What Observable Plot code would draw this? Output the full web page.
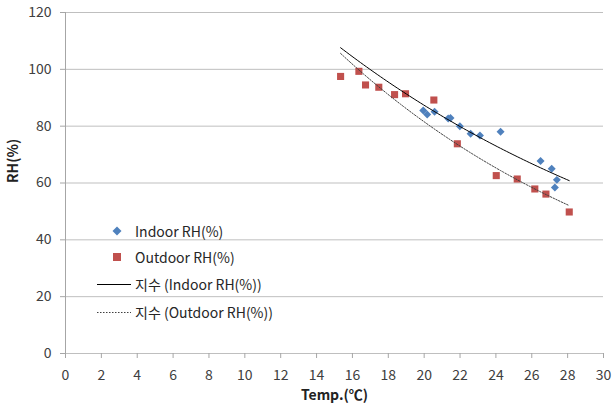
<!DOCTYPE html>
<html><head><meta charset="utf-8">
<script src="https://cdn.jsdelivr.net/npm/d3@7"></script>
<script src="https://cdn.jsdelivr.net/npm/@observablehq/plot@0.6"></script>
<style>
body{margin:0;background:#fff;font-family:"Noto Sans CJK KR","Noto Sans",sans-serif;}
#wrap{position:relative;width:613px;height:409px;}
#legend{position:absolute;left:95px;top:0;font-size:14px;color:#262626;}
.row{position:absolute;left:0;height:20px;display:flex;align-items:center;white-space:nowrap;}
.row svg{flex:none;}
</style></head><body><div id="wrap"></div>
<script>
const indoorTemp = [19.95, 20.17, 20.58, 21.34, 21.47, 21.99, 22.59, 23.11, 24.26, 26.49, 27.11, 27.40, 27.29];
const indoorRH   = [85.5, 84.1, 85.1, 82.7, 82.9, 80.0, 77.3, 76.7, 78.0, 67.7, 65.0, 61.1, 58.4];
const outdoorTemp = [15.34, 16.36, 16.73, 17.47, 18.35, 18.96, 20.54, 21.85, 24.02, 25.19, 26.17, 26.79, 28.09];
const outdoorRH   = [97.5, 99.3, 94.5, 93.7, 91.1, 91.4, 89.2, 73.8, 62.6, 61.4, 57.9, 56.1, 49.8];
const xTicks = [0, 2, 4, 6, 8, 10, 12, 14, 16, 18, 20, 22, 24, 26, 28, 30];
const yTicks = [0, 20, 40, 60, 80, 100, 120];
const seriesNames = ["Indoor RH(%)", "Outdoor RH(%)", "지수 (Indoor RH(%))", "지수 (Outdoor RH(%))"];
const colors = ["#4F81BD", "#C0504D", "#000000", "#404040"];

const indoor = indoorTemp.map((t, i) => ({t, rh: indoorRH[i]}));
const outdoor = outdoorTemp.map((t, i) => ({t, rh: outdoorRH[i]}));

// Excel-style exponential trendline: least squares on ln(y)
function expFit(xs, ys) {
  const ly = ys.map(Math.log);
  const mx = d3.mean(xs), my = d3.mean(ly);
  const b = d3.sum(xs, (x, i) => (x - mx) * (ly[i] - my)) / d3.sum(xs, x => (x - mx) ** 2);
  const a = Math.exp(my - b * mx);
  return x => a * Math.exp(b * x);
}
const allT = indoorTemp.concat(outdoorTemp);
const lo = d3.min(allT), hi = d3.max(allT);
const samples = d3.range(81).map(i => lo + (hi - lo) * i / 80);
const fIn = expFit(indoorTemp, indoorRH), fOut = expFit(outdoorTemp, outdoorRH);
const inCurve = samples.map(t => ({t, rh: fIn(t)}));
const outCurve = samples.map(t => ({t, rh: fOut(t)}));

const chart = Plot.plot({
  width: 613, height: 409,
  marginLeft: 65, marginRight: 10, marginTop: 12, marginBottom: 56,
  style: {fontFamily: '"Noto Sans CJK KR","Noto Sans",sans-serif', fontSize: "14px", color: "#404040", background: "#fff"},
  x: {domain: [0, 30]},
  y: {domain: [0, 120]},
  marks: [
    Plot.ruleY(yTicks, {stroke: "#bfbfbf", strokeWidth: 1}),
    Plot.ruleX([0], {stroke: "#a6a6a6", strokeWidth: 1}),
    Plot.axisX({ticks: xTicks, tickSize: 5, tickPadding: 12, stroke: "#a6a6a6", label: null, fontSize: 14, fill: "#404040"}),
    Plot.axisY({ticks: yTicks, tickSize: 5, tickPadding: 9, stroke: "#a6a6a6", label: null, fontSize: 14, fill: "#404040"}),
    Plot.text(["Temp.(℃)"], {frameAnchor: "bottom", dy: 42, fontWeight: "bold", fontSize: 14, fill: "#222", lineAnchor: "middle"}),
    Plot.text(["RH(%)"], {frameAnchor: "left", dx: -52, rotate: -90, fontWeight: "bold", fontSize: 14, fill: "#222"}),
    Plot.dot(outdoor, {x: "t", y: "rh", symbol: "square", r: 4, fill: colors[1], stroke: "none"}),
    Plot.dot(indoor, {x: "t", y: "rh", symbol: "diamond2", r: 3.6, fill: colors[0], stroke: "none"}),
    Plot.line(inCurve, {x: "t", y: "rh", stroke: colors[2], strokeWidth: 1}),
    Plot.line(outCurve, {x: "t", y: "rh", stroke: colors[3], strokeWidth: 1, strokeDasharray: "1.5,1.5"})
  ]
});
const wrap = document.getElementById("wrap");
wrap.appendChild(chart);

// legend overlay
const legend = document.createElement("div");
legend.id = "legend";
const rows = [
  {top: 221, sw: `<svg width="40" height="20"><path d="M22,5.5L26.5,10L22,14.5L17.5,10Z" fill="${colors[0]}"/></svg>`},
  {top: 247, sw: `<svg width="40" height="20"><rect x="18" y="6" width="8" height="8" fill="${colors[1]}"/></svg>`},
  {top: 274, sw: `<svg width="40" height="20"><line x1="2" x2="36" y1="10.5" y2="10.5" stroke="${colors[2]}" stroke-width="1"/></svg>`},
  {top: 302, sw: `<svg width="40" height="20"><line x1="2" x2="36" y1="10.5" y2="10.5" stroke="${colors[3]}" stroke-width="1" stroke-dasharray="1.5,1.5"/></svg>`}
];
rows.forEach((r, i) => {
  const d = document.createElement("div");
  d.className = "row";
  d.style.top = r.top + "px";
  d.innerHTML = r.sw + `<span>${seriesNames[i]}</span>`;
  legend.appendChild(d);
});
wrap.appendChild(legend);
</script>
</body></html>
